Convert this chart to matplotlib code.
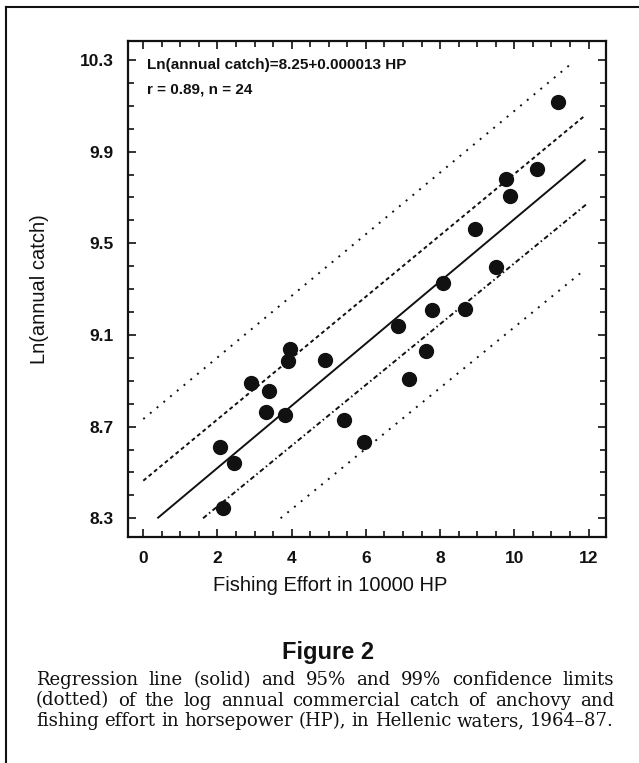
import numpy as np
import matplotlib
matplotlib.use("Agg")
import matplotlib.pyplot as plt
from matplotlib.lines import Line2D
from matplotlib.ticker import MultipleLocator

# fishing effort (10000 HP) and ln(annual catch)
effort = [2.06, 2.44, 2.15, 2.89, 3.39, 3.30, 3.83, 3.90, 3.96, 4.91, 5.40, 5.96,
          6.87, 7.16, 7.63, 7.79, 8.67, 8.09, 8.95, 9.50, 9.78, 9.87, 10.62, 11.18]
ln_catch = [8.610, 8.543, 8.346, 8.889, 8.855, 8.762, 8.749, 8.986, 9.039, 8.991, 8.729, 8.634,
            9.139, 8.906, 9.031, 9.209, 9.214, 9.328, 9.562, 9.395, 9.779, 9.707, 9.824, 10.118]

# regression line and confidence limits (end points)
reg_x = [0.38, 11.92]
reg_y = [8.30, 9.866]
upper95_x = [0.0, 11.90]
upper95_y = [8.464, 10.057]
lower95_x = [1.61, 11.94]
lower95_y = [8.30, 9.67]
upper99_x = [0.0, 11.52]
upper99_y = [8.733, 10.282]
lower99_x = [3.70, 11.86]
lower99_y = [8.30, 9.38]

xticks = [0, 2, 4, 6, 8, 10, 12]
yticks = [8.3, 8.7, 9.1, 9.5, 9.9, 10.3]

eq_text = "Ln(annual catch)=8.25+0.000013 HP"
stat_text = "r = 0.89, n = 24"
fig_title = "Figure 2"
caption = [
    "Regression line (solid) and 95% and 99% confidence limits",
    "(dotted) of the log annual commercial catch of anchovy and",
    "fishing effort in horsepower (HP), in Hellenic waters, 1964\u201387.",
]

ink = "#111111"
W, H = 639, 763
fig = plt.figure(figsize=(W / 100, H / 100), dpi=100)
ax = fig.add_axes([127.7 / W, 1 - 537.3 / H, (606 - 127.7) / W, (537.3 - 40.7) / H])

ax.plot(upper99_x, upper99_y, color=ink, lw=1.4, linestyle=(0, (1, 3.5)))
ax.plot(lower99_x, lower99_y, color=ink, lw=1.4, linestyle=(0, (1, 3.5)))
ax.plot(upper95_x, upper95_y, color=ink, lw=1.4, linestyle=(0, (2, 1.6)))
ax.plot(lower95_x, lower95_y, color=ink, lw=1.4, linestyle=(0, (2.5, 1.5, 0.8, 1.5)))
ax.plot(reg_x, reg_y, color=ink, lw=1.4, solid_capstyle="butt")
ax.plot(effort, ln_catch, "o", color=ink, ms=10, mec=ink)

ax.set_xlim(-0.42, 12.47)
ax.set_ylim(8.217, 10.384)
ax.set_xticks(xticks)
ax.set_yticks(yticks)
ax.xaxis.set_minor_locator(MultipleLocator(0.5))
ax.yaxis.set_minor_locator(MultipleLocator(0.1))
ax.set_xticklabels([str(v) for v in xticks])
ax.set_yticklabels([f"{v:.1f}" for v in yticks])
ax.tick_params(which="both", direction="in", top=True, right=True, width=1.2, color=ink)
ax.tick_params(which="major", length=6, labelsize=12.5, pad=10)
ax.tick_params(which="minor", length=4)
for lab in ax.get_xticklabels() + ax.get_yticklabels():
    lab.set_fontfamily("Liberation Sans")
    lab.set_fontweight("bold")
    lab.set_color(ink)
for s in ax.spines.values():
    s.set_linewidth(1.6)
    s.set_color(ink)

ax.set_xlabel("Fishing Effort in 10000 HP", fontsize=14.5, family="Liberation Sans",
              color=ink)
ax.xaxis.set_label_coords((330 - 127.7) / 478.3, -0.078)
ax.set_ylabel("Ln(annual catch)", fontsize=14.5, family="Liberation Sans",
              color=ink, labelpad=22)

fig.text(147 / W, 1 - 65 / H, eq_text, fontsize=11, family="Liberation Sans",
         weight="bold", va="center", color=ink)
fig.text(147 / W, 1 - 90 / H, stat_text, fontsize=11, family="Liberation Sans",
         weight="bold", va="center", color=ink)

fig.text(328 / W, 1 - 652 / H, fig_title, fontsize=17, family="Liberation Sans",
         weight="bold", ha="center", va="center", color=ink)

# justified caption lines
renderer = fig.canvas.get_renderer()
left_px, right_px = 36.0, 614.0
cap_size = 13.1
for i, line in enumerate(caption):
    y = 1 - (680 + i * 20.5) / H
    words = line.split(" ")
    widths = []
    for w in words:
        t = fig.text(0, 0, w, fontsize=cap_size, family="DejaVu Serif")
        widths.append(t.get_window_extent(renderer).width)
        t.remove()
    gap = (right_px - left_px - sum(widths)) / (len(words) - 1)
    x = left_px
    for w, wd in zip(words, widths):
        fig.text(x / W, y, w, fontsize=cap_size, family="DejaVu Serif", va="center", color=ink)
        x += wd + gap

# page frame (top and left edges)
fig.add_artist(Line2D([6 / W, 1], [1 - 7 / H, 1 - 7 / H], color=ink, lw=1.5))
fig.add_artist(Line2D([6 / W, 6 / W], [0, 1 - 7 / H], color=ink, lw=1.5))

fig.savefig("out.png", dpi=100, facecolor="white")
